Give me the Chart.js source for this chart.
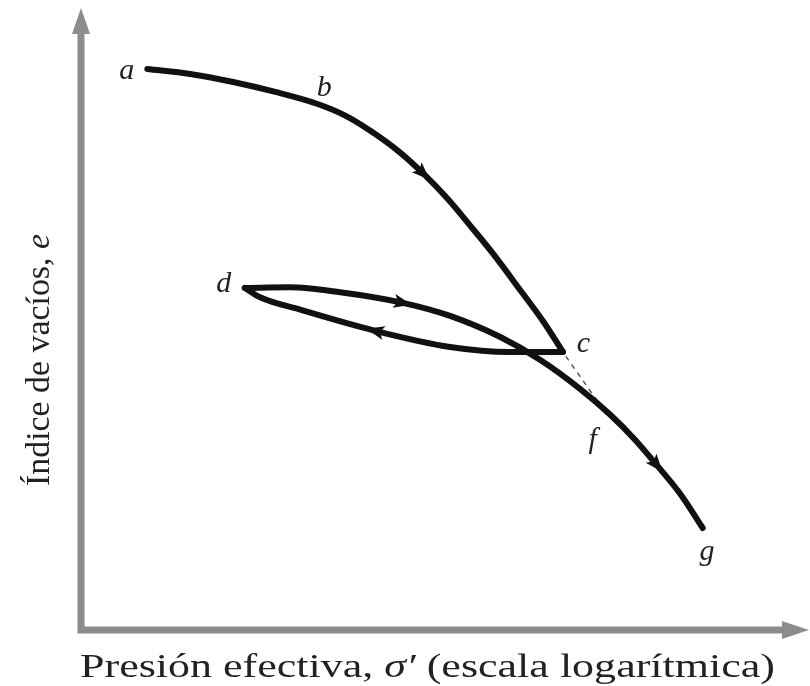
<!DOCTYPE html>
<html>
<head>
<meta charset="utf-8">
<script src="https://cdn.jsdelivr.net/npm/chart.js@4.4.1/dist/chart.umd.min.js"></script>
<style>
  html, body { margin: 0; padding: 0; background: #fff; }
  #wrap { width: 810px; height: 686px; }
</style>
</head>
<body>
<div id="wrap"><canvas id="curveCanvas" width="810" height="686"></canvas></div>
<script>
// curve values (x = log pressure, y = void ratio), arbitrary units 0..100
const virginX = [9.1, 15.0, 20.9, 26.7, 32.4, 36.3, 39.7, 43.8, 47.0, 50.3, 53.4, 56.6, 60.3, 63.5, 66.2];
const virginY = [90.2, 89.4, 88.1, 86.5, 84.6, 82.7, 80.3, 76.8, 73.4, 69.4, 65.1, 60.5, 54.7, 49.6, 44.7];

const unloadX = [66.2, 63.1, 58.9, 50.7, 40.4, 30.1, 24.6, 22.5];
const unloadY = [44.7, 44.7, 44.7, 45.5, 48.1, 51.5, 53.5, 55.0];

const reloadX = [22.5, 28.7, 35.6, 44.2, 50.7, 57.6, 63.1, 68.5, 72.7, 76.1, 79.1, 82.3, 85.4];
const reloadY = [55.0, 55.1, 54.3, 52.6, 50.5, 47.1, 43.4, 38.8, 34.6, 30.6, 26.5, 21.9, 16.4];

const dashX = [66.6, 71.0];
const dashY = [44.0, 36.7];

const pointLabels = ['a', 'b', 'c', 'd', 'f', 'g'];
const labelX = [6.3, 33.4, 69.0, 19.6, 70.3, 86.0];
const labelY = [89.9, 87.1, 46.0, 55.6, 30.5, 12.5];

// arrow marks: [dataset index, point index]
const arrowMarks = [[0, 8], [1, 4], [2, 3], [2, 10]];

const yTitle = 'Índice de vacíos, ';
const yTitleVar = 'e';
const xTitleA = 'Presión efectiva, ';
const xTitleVar = 'σ′';
const xTitleB = ' (escala logarítmica)';

const serif = '"Liberation Serif", "Times New Roman", Times, serif';

function toPoints(xs, ys) {
    return xs.map((x, i) => ({ x: x, y: ys[i] }));
}

const axisColor = '#8c8c8c';

const decorPlugin = {
    id: 'decor',
    beforeDatasetsDraw(chart) {
        const ctx = chart.ctx;
        const area = chart.chartArea;
        ctx.save();
        ctx.strokeStyle = axisColor;
        ctx.fillStyle = axisColor;
        ctx.lineWidth = 7;
        // axes
        ctx.beginPath();
        ctx.moveTo(area.left, 32);
        ctx.lineTo(area.left, area.bottom);
        ctx.lineTo(784, area.bottom);
        ctx.stroke();
        // arrow heads
        ctx.beginPath();
        ctx.moveTo(area.left, 8);
        ctx.lineTo(area.left - 9, 34);
        ctx.lineTo(area.left + 9, 34);
        ctx.closePath();
        ctx.fill();
        ctx.beginPath();
        ctx.moveTo(809, area.bottom);
        ctx.lineTo(782, area.bottom - 9);
        ctx.lineTo(782, area.bottom + 9);
        ctx.closePath();
        ctx.fill();

        // axis titles
        ctx.fillStyle = '#222';
        ctx.textBaseline = 'alphabetic';
        ctx.font = '34px ' + serif;
        const wa = ctx.measureText(xTitleA).width;
        const wb = ctx.measureText(xTitleB).width;
        ctx.font = 'italic 34px ' + serif;
        const wv = ctx.measureText(xTitleVar).width;
        const sx = 695 / (wa + wb + wv);
        ctx.save();
        ctx.translate(80, 677);
        ctx.scale(sx, 1);
        ctx.font = '34px ' + serif;
        ctx.fillText(xTitleA, 0, 0);
        ctx.font = 'italic 34px ' + serif;
        ctx.fillText(xTitleVar, wa, 0);
        ctx.font = '34px ' + serif;
        ctx.fillText(xTitleB, wa + wv, 0);
        ctx.restore();

        ctx.font = '34px ' + serif;
        const w1 = ctx.measureText(yTitle).width;
        ctx.font = 'italic 34px ' + serif;
        const w2 = ctx.measureText(yTitleVar).width;
        const sy = 252 / (w1 + w2);
        ctx.save();
        ctx.translate(49, 486);
        ctx.rotate(-Math.PI / 2);
        ctx.scale(sy, 1);
        ctx.font = '34px ' + serif;
        ctx.fillText(yTitle, 0, 0);
        ctx.font = 'italic 34px ' + serif;
        ctx.fillText(yTitleVar, w1, 0);
        ctx.restore();
        ctx.restore();
    },
    afterDatasetsDraw(chart) {
        const ctx = chart.ctx;
        const xs = chart.scales.x;
        const ys = chart.scales.y;
        ctx.save();
        ctx.fillStyle = '#111';
        arrowMarks.forEach(([ds, i]) => {
            const pts = chart.getDatasetMeta(ds).data;
            const p = pts[i], prev = pts[i - 1], next = pts[i + 1];
            const ang = Math.atan2(next.y - prev.y, next.x - prev.x);
            ctx.save();
            ctx.translate(p.x, p.y);
            ctx.rotate(ang);
            ctx.beginPath();
            ctx.moveTo(9, 0);
            ctx.lineTo(-9, -7);
            ctx.lineTo(-5, 0);
            ctx.lineTo(-9, 7);
            ctx.closePath();
            ctx.fill();
            ctx.restore();
        });

        ctx.fillStyle = '#222';
        ctx.font = 'italic 30px ' + serif;
        ctx.textAlign = 'center';
        ctx.textBaseline = 'middle';
        pointLabels.forEach((t, i) => {
            ctx.fillText(t, xs.getPixelForValue(labelX[i]), ys.getPixelForValue(labelY[i]));
        });
        ctx.restore();
    }
};

const curveStyle = {
    borderColor: '#111',
    borderWidth: 6,
    pointRadius: 0,
    cubicInterpolationMode: 'monotone',
    fill: false,
    borderCapStyle: 'round',
    borderJoinStyle: 'round'
};

new Chart(document.getElementById('curveCanvas'), {
    type: 'line',
    data: {
        datasets: [
            Object.assign({ label: 'virgen', data: toPoints(virginX, virginY) }, curveStyle),
            Object.assign({ label: 'descarga', data: toPoints(unloadX, unloadY) }, curveStyle),
            Object.assign({ label: 'recarga', data: toPoints(reloadX, reloadY) }, curveStyle),
            {
                label: 'prolongacion',
                data: toPoints(dashX, dashY),
                borderColor: '#555',
                borderWidth: 1.5,
                borderDash: [5, 5],
                pointRadius: 0,
                fill: false
            }
        ]
    },
    options: {
        responsive: false,
        animation: false,
        layout: { padding: { left: 81, right: 1, top: 8, bottom: 56 } },
        plugins: { legend: { display: false }, tooltip: { enabled: false } },
        scales: {
            x: { type: 'linear', min: 0, max: 100, display: false },
            y: { type: 'linear', min: 0, max: 100, display: false }
        }
    },
    plugins: [decorPlugin]
});
</script>
</body>
</html>
